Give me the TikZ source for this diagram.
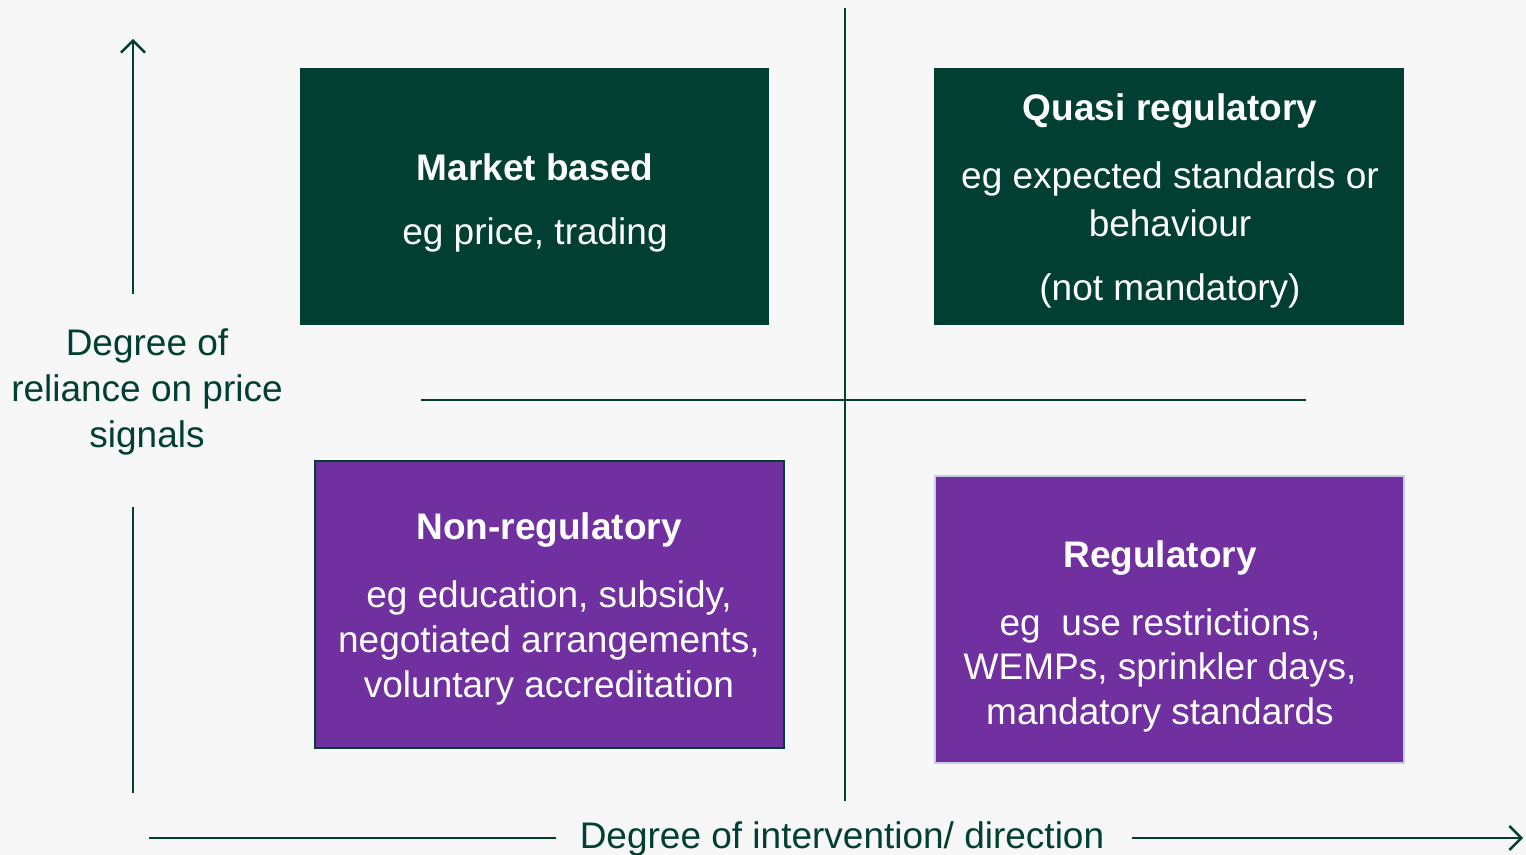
\documentclass[tikz,border=0pt]{standalone}
\usepackage{fontspec}
\setmainfont{Liberation Sans}
\usetikzlibrary{arrows.meta}
\definecolor{bgc}{HTML}{F7F7F7}
\definecolor{dkgreen}{HTML}{013F33}
\definecolor{purp}{HTML}{7030A0}
\definecolor{lblue}{HTML}{C5CDE6}
\tikzset{
  gbox/.style={fill=dkgreen, draw=none},
  pbox/.style={fill=purp},
  ax/.style={draw=dkgreen, line width=1.2pt},
  arr/.style={ax, -{Straight Barb[length=6pt,width=12pt,line width=1.2pt]}},
  wt/.style={text=white, font=\fontsize{18.5}{22.5}\selectfont, inner sep=0pt, anchor=center},
  wtb/.style={wt, font=\fontsize{18.5}{22.5}\selectfont\bfseries},
  gt/.style={text=dkgreen, font=\fontsize{18.5}{22.5}\selectfont, inner sep=0pt, anchor=center, align=center},
}
\begin{document}
\begin{tikzpicture}[x=0.5pt,y=-0.5pt]
\path[fill=bgc] (0,0) rectangle (1526,855);
\useasboundingbox (0,0) rectangle (1526,855);
% boxes
\path[gbox] (300,68) rectangle (769,325);
\path[gbox] (934,68) rectangle (1404,325);
\path[pbox, draw=dkgreen, line width=1pt] (315,461) rectangle (784,748);
\path[pbox, draw=lblue, line width=0.8pt] (935,476) rectangle (1404,763);
% quadrant lines
\coordinate (vt) at (845,8);
\coordinate (vb) at (845,801);
\coordinate (hl) at (421,400);
\coordinate (hr) at (1306,400);
\draw[ax] (vt) -- (vb);
\draw[ax] (hl) -- (hr);
% left axis
\coordinate (ya0) at (133,294);
\coordinate (ya1) at (133,39);
\coordinate (yb0) at (133,507);
\coordinate (yb1) at (133,793);
\draw[arr] (ya0) -- (ya1);
\draw[ax] (yb0) -- (yb1);
\node[gt] (ylab) at (147,392) {Degree of\\[0.3pt]reliance on price\\[0.3pt]signals};
% bottom axis
\node[gt] (xlab) at (842,839) {Degree of intervention/ direction};
\coordinate (xa0) at (149,838);
\coordinate (xa1) at (556,838);
\coordinate (xb0) at (1132,838);
\coordinate (xb1) at (1523,838);
\draw[ax] (xa0) -- (xa1);
\draw[arr] (xb0) -- (xb1);
% texts
\node[wtb] (mb) at (535,167) {Market based};
\node[wt] (mb1) at (535,235) {eg price, trading};
\node[wtb] (qr) at (1170,111) {Quasi regulatory};
\node[wt] (qr1) at (1170,179) {eg expected standards or};
\node[wt] (qr2) at (1170,223) {behaviour};
\node[wt] (qr3) at (1170,291) {(not mandatory)};
\node[wtb] (nr) at (549,530) {Non-regulatory};
\node[wt] (nr1) at (549,598) {eg education, subsidy,};
\node[wt] (nr2) at (549,643) {negotiated arrangements,};
\node[wt] (nr3) at (549,688) {voluntary accreditation};
\node[wtb] (rg) at (1160,558) {Regulatory};
\node[wt] (rg1) at (1160,626) {eg\ \ use restrictions,};
\node[wt] (rg2) at (1160,670) {WEMPs, sprinkler days,};
\node[wt] (rg3) at (1160,715) {mandatory standards};
\end{tikzpicture}
\end{document}
